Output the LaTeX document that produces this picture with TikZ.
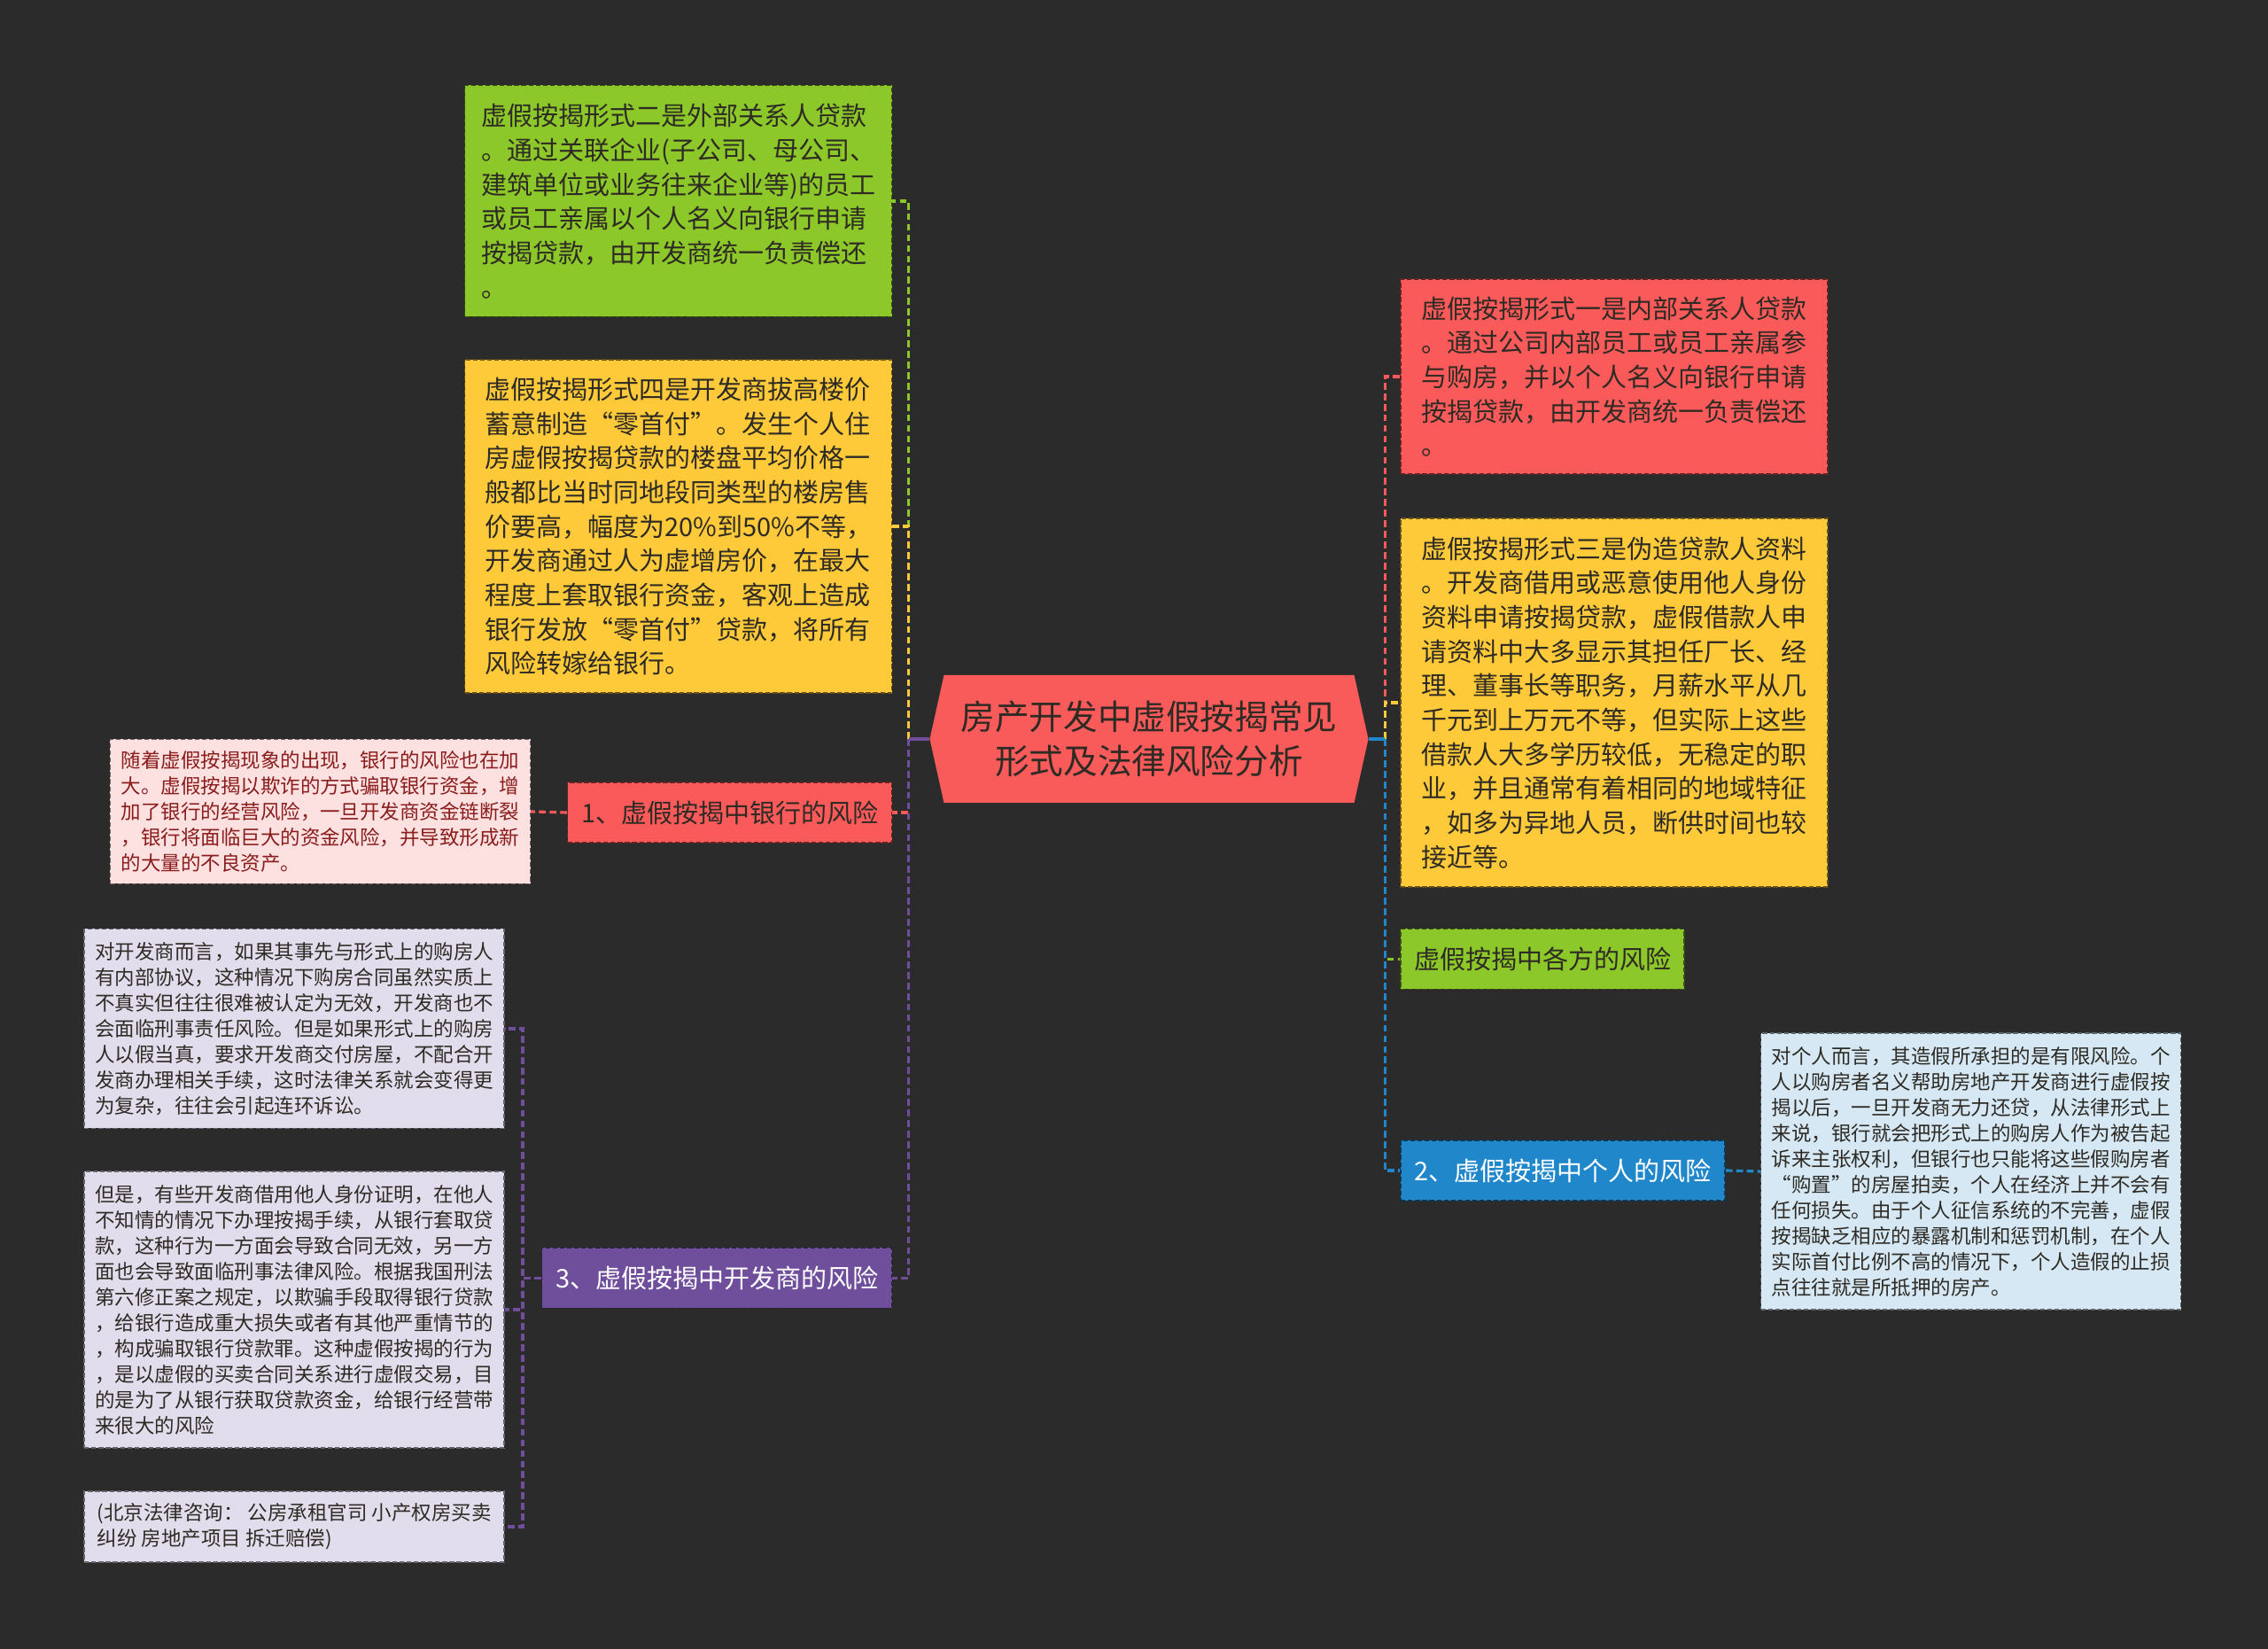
\documentclass[tikz,border=0pt]{standalone}
\usepackage{fontspec}
\setmainfont{Noto Sans CJK SC}
\usetikzlibrary{positioning, shapes.symbols}
\definecolor{BgDark}{HTML}{2B2B2B}
\definecolor{RootRed}{HTML}{F95B5B}
\definecolor{LimeGreen}{HTML}{8CC829}
\definecolor{SunYellow}{HTML}{FFCA3A}
\definecolor{CoralRed}{HTML}{FA5A5A}
\definecolor{PalePink}{HTML}{FDE1E1}
\definecolor{GrapePurple}{HTML}{6F4E9B}
\definecolor{PaleLilac}{HTML}{E2DDEC}
\definecolor{SkyBlue}{HTML}{1F87CA}
\definecolor{PaleBlue}{HTML}{D5E8F4}
\definecolor{InkDark}{HTML}{2E2A24}
\definecolor{WineText}{HTML}{8A1C1C}
\newcommand{\titlefont}{\fontsize{11pt}{14.4pt}\selectfont}
\newcommand{\boxfont}{\fontsize{8.25pt}{11pt}\selectfont}
\newcommand{\notefont}{\fontsize{6.4pt}{8.25pt}\selectfont}
\tikzset{
  rootnode/.style={signal, signal to=east and west, signal pointer angle=155, fill=RootRed, minimum width=49.5mm, minimum height=14.4mm, inner sep=0pt, align=center, font=\titlefont, text=InkDark},
  bigbox/.style={draw=#1!40!black, dash pattern=on 1.5pt off 0.8pt, line width=0.4pt, fill=#1, align=left, minimum width=48.2mm, inner xsep=1.6mm, font=\boxfont, text=InkDark},
  notebox/.style={draw=#1!45!black, dash pattern=on 1.5pt off 0.8pt, line width=0.4pt, fill=#1, align=left, minimum width=47.4mm, inner xsep=1.1mm, font=\notefont, text=InkDark},
  topicbox/.style={draw=#1!40!black, dash pattern=on 1.5pt off 0.8pt, line width=0.4pt, fill=#1, align=center, minimum height=6.8mm, font=\boxfont, text=InkDark},
  link/.style={draw=#1, line width=0.9pt, dash pattern=on 2.2pt off 1.2pt},
  stub/.style={draw=#1, line width=0.9pt}
}

\begin{document}
\begin{tikzpicture}[x=1mm, y=-1mm]
\useasboundingbox (0,0) rectangle (256,186.1);
\fill[BgDark] (0,0) rectangle (256,186.1);

% root
\node[rootnode] (root) at (129.7,83.4) {房产开发中虚假按揭常见\\形式及法律风险分析};
\coordinate (ltrunk) at ([xshift=-2.3mm]root.west);
\coordinate (rtrunk) at ([xshift=1.8mm]root.east);

% left side
\node[bigbox=LimeGreen, minimum height=26.1mm, anchor=east] (formtwo) at (100.74,22.7) {虚假按揭形式二是外部关系人贷款\\。通过关联企业(子公司、母公司、\\建筑单位或业务往来企业等)的员工\\或员工亲属以个人名义向银行申请\\按揭贷款，由开发商统一负责偿还\\。};
\node[bigbox=SunYellow, minimum height=37.6mm, anchor=east] (formfour) at (100.74,59.4) {虚假按揭形式四是开发商拔高楼价\\蓄意制造“零首付”。发生个人住\\房虚假按揭贷款的楼盘平均价格一\\般都比当时同地段同类型的楼房售\\价要高，幅度为20\%到50\%不等，\\开发商通过人为虚增房价，在最大\\程度上套取银行资金，客观上造成\\银行发放“零首付”贷款，将所有\\风险转嫁给银行。};
\node[topicbox=CoralRed, minimum width=36.6mm, anchor=east] (bankrisk) at (100.74,91.7) {1、虚假按揭中银行的风险};
\node[notebox=PalePink, text=WineText, minimum height=16.3mm, anchor=east] (banknote) at (59.92,91.6) {随着虚假按揭现象的出现，银行的风险也在加\\大。虚假按揭以欺诈的方式骗取银行资金，增\\加了银行的经营风险，一旦开发商资金链断裂\\，银行将面临巨大的资金风险，并导致形成新\\的大量的不良资产。};
\node[topicbox=GrapePurple, text=white, minimum width=39.5mm, anchor=east] (devrisk) at (100.74,144.25) {3、虚假按揭中开发商的风险};
\node[notebox=PaleLilac, minimum height=22.5mm, anchor=east] (devnotea) at (56.98,116.1) {对开发商而言，如果其事先与形式上的购房人\\有内部协议，这种情况下购房合同虽然实质上\\不真实但往往很难被认定为无效，开发商也不\\会面临刑事责任风险。但是如果形式上的购房\\人以假当真，要求开发商交付房屋，不配合开\\发商办理相关手续，这时法律关系就会变得更\\为复杂，往往会引起连环诉讼。};
\node[notebox=PaleLilac, minimum height=31.2mm, anchor=east] (devnoteb) at (56.98,147.8) {但是，有些开发商借用他人身份证明，在他人\\不知情的情况下办理按揭手续，从银行套取贷\\款，这种行为一方面会导致合同无效，另一方\\面也会导致面临刑事法律风险。根据我国刑法\\第六修正案之规定，以欺骗手段取得银行贷款\\，给银行造成重大损失或者有其他严重情节的\\，构成骗取银行贷款罪。这种虚假按揭的行为\\，是以虚假的买卖合同关系进行虚假交易，目\\的是为了从银行获取贷款资金，给银行经营带\\来很大的风险};
\node[notebox=PaleLilac, minimum height=8mm, anchor=east] (devnotec) at (56.98,172.3) {(北京法律咨询： 公房承租官司 小产权房买卖\\纠纷 房地产项目 拆迁赔偿)};

% right side
\node[bigbox=CoralRed, minimum height=22mm, anchor=west] (formone) at (158.04,42.5) {虚假按揭形式一是内部关系人贷款\\。通过公司内部员工或员工亲属参\\与购房，并以个人名义向银行申请\\按揭贷款，由开发商统一负责偿还\\。};
\node[bigbox=SunYellow, minimum height=41.6mm, anchor=west] (formthree) at (158.04,79.3) {虚假按揭形式三是伪造贷款人资料\\。开发商借用或恶意使用他人身份\\资料申请按揭贷款，虚假借款人申\\请资料中大多显示其担任厂长、经\\理、董事长等职务，月薪水平从几\\千元到上万元不等，但实际上这些\\借款人大多学历较低，无稳定的职\\业，并且通常有着相同的地域特征\\，如多为异地人员，断供时间也较\\接近等。};
\node[topicbox=LimeGreen, minimum width=32mm, anchor=west] (allrisk) at (158.04,108.25) {虚假按揭中各方的风险};
\node[topicbox=SkyBlue, text=white, minimum width=36.6mm, anchor=west] (personrisk) at (158.04,132.1) {2、虚假按揭中个人的风险};
\node[notebox=PaleBlue, minimum height=31.2mm, anchor=west] (personnote) at (198.7,132.2) {对个人而言，其造假所承担的是有限风险。个\\人以购房者名义帮助房地产开发商进行虚假按\\揭以后，一旦开发商无力还贷，从法律形式上\\来说，银行就会把形式上的购房人作为被告起\\诉来主张权利，但银行也只能将这些假购房者\\“购置”的房屋拍卖，个人在经济上并不会有\\任何损失。由于个人征信系统的不完善，虚假\\按揭缺乏相应的暴露机制和惩罚机制，在个人\\实际首付比例不高的情况下，个人造假的止损\\点往往就是所抵押的房产。};

% connectors
\foreach \kid/\col in {formtwo/LimeGreen, formfour/SunYellow, bankrisk/CoralRed, devrisk/GrapePurple}{
  \draw[stub=\col] (root.west) -- (ltrunk);
  \draw[link=\col] (ltrunk) |- (\kid.east);
}
\foreach \kid/\col in {formone/CoralRed, formthree/SunYellow, allrisk/LimeGreen, personrisk/SkyBlue}{
  \draw[stub=\col] (root.east) -- (rtrunk);
  \draw[link=\col] (rtrunk) |- (\kid.west);
}
\draw[link=CoralRed] (bankrisk.west) -- (banknote.east);
\coordinate (devtrunk) at ([xshift=-2.1mm]devrisk.west);
\foreach \kid in {devnotea, devnoteb, devnotec}
  \draw[link=GrapePurple] (devrisk.west) -- (devtrunk) |- (\kid.east);
\draw[link=SkyBlue] (personrisk.east) -- (personnote.west);
\end{tikzpicture}
\end{document}
